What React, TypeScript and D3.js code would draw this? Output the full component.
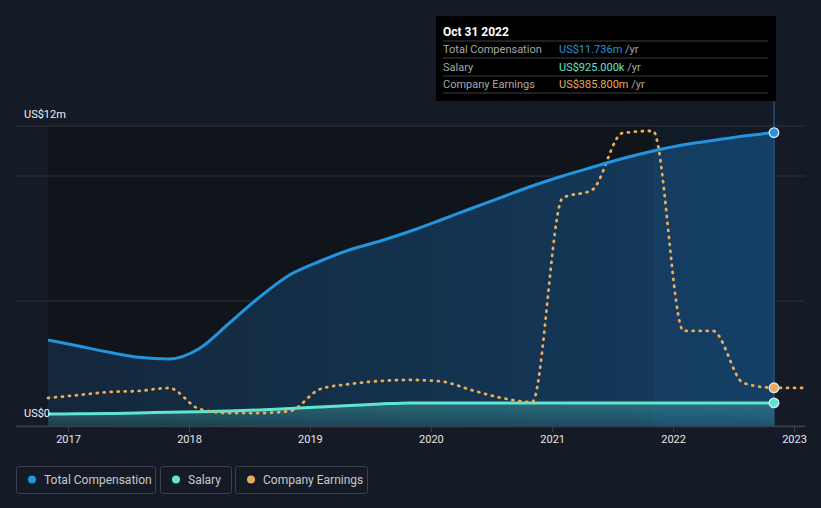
import React from "react";
import { scaleTime, scaleLinear, line, area, curveMonotoneX } from "d3";

const quarterDates = [
  "2016-10-31", "2017-01-31", "2017-04-30", "2017-07-31",
  "2017-10-31", "2018-01-31", "2018-04-30", "2018-07-31",
  "2018-10-31", "2019-01-31", "2019-04-30", "2019-07-31",
  "2019-10-31", "2020-01-31", "2020-04-30", "2020-07-31",
  "2020-10-31", "2021-01-31", "2021-04-30", "2021-07-31",
  "2021-10-31", "2022-01-31", "2022-04-30", "2022-07-31",
  "2022-10-31",
];

// US$ millions
const totalComp = [
  3.44, 3.2, 2.96, 2.75,
  2.68, 3.1, 4.1, 5.15,
  6.05, 6.6, 7.05, 7.4,
  7.8, 8.25, 8.7, 9.15,
  9.6, 10.0, 10.35, 10.7,
  11.0, 11.25, 11.42, 11.6,
  11.736,
];

const salary = [
  0.48, 0.49, 0.5, 0.52,
  0.55, 0.57, 0.6, 0.64,
  0.7, 0.76, 0.82, 0.88,
  0.925, 0.925, 0.925, 0.925,
  0.925, 0.925, 0.925, 0.925,
  0.925, 0.925, 0.925, 0.925,
  0.925,
];

const earningsDates = [...quarterDates, "2023-01-31"];
// US$ millions
const earnings = [
  283, 313, 343, 354,
  384, 172, 131, 131,
  152, 374, 424, 455,
  465, 450, 364, 283,
  242, 2303, 2384, 2959,
  2980, 960, 960, 434,
  385.8, 384,
];

const yTicks = [0, 5, 10, 12];
const years = ["2017", "2018", "2019", "2020", "2021", "2022", "2023"];

const BLUE = "#2394df";
const TEAL = "#5ee6d0";
const ORANGE = "#e8ac5a";

const tooltipRows = [
  { label: "Total Compensation", value: "US$11.736m", color: BLUE },
  { label: "Salary", value: "US$925.000k", color: TEAL },
  { label: "Company Earnings", value: "US$385.800m", color: ORANGE },
];

const legendItems = [
  { label: "Total Compensation", color: BLUE, x: 16, w: 139 },
  { label: "Salary", color: TEAL, x: 160, w: 71 },
  { label: "Company Earnings", color: ORANGE, x: 235, w: 132 },
];

type Pt = { d: Date; v: number };

export default function App() {
  const W = 821;
  const H = 508;
  const x = scaleTime()
    .domain([new Date("2016-10-31"), new Date("2022-10-31")])
    .range([48, 774]);
  const y = scaleLinear().domain([0, 12]).range([426, 126]);
  const yE = scaleLinear().domain([0, 3000]).range([426, 129]);

  const comp: Pt[] = quarterDates.map((d, i) => ({ d: new Date(d), v: totalComp[i] }));
  const sal: Pt[] = quarterDates.map((d, i) => ({ d: new Date(d), v: salary[i] }));
  const earn: Pt[] = earningsDates.map((d, i) => ({ d: new Date(d), v: earnings[i] }));

  const compLine = line<Pt>()
    .x((p) => x(p.d))
    .y((p) => y(p.v))
    .curve(curveMonotoneX);
  const compArea = area<Pt>()
    .x((p) => x(p.d))
    .y0(y(0))
    .y1((p) => y(p.v))
    .curve(curveMonotoneX);
  const earnLine = line<Pt>()
    .x((p) => x(p.d))
    .y((p) => yE(p.v))
    .curve(curveMonotoneX);

  const last = comp[comp.length - 1];
  const lastX = x(last.d);
  const bandX = x(new Date("2021-10-31"));
  const yearTicks = years.map((yr) => new Date(`${yr}-01-01T00:00:00`));

  return (
    <svg
      width={W}
      height={H}
      style={{ position: "absolute", left: 0, top: 0, background: "#151b26", fontFamily: "Roboto, sans-serif" }}
    >
      <defs>
        <linearGradient id="compGrad" x1="0" y1="0" x2="1" y2="0">
          <stop offset="0%" stopColor="#14273b" />
          <stop offset="100%" stopColor="#133c5f" />
        </linearGradient>
        <linearGradient id="salGrad" x1="0" y1="0" x2="0" y2="1">
          <stop offset="0%" stopColor={TEAL} stopOpacity={0.3} />
          <stop offset="100%" stopColor={TEAL} stopOpacity={0.12} />
        </linearGradient>
      </defs>

      {/* plot background */}
      <rect x={48} y={126} width={lastX - 48} height={300} fill="#10141b" />

      {/* grid */}
      {yTicks.map((t) => (
        <line key={t} x1={16} x2={805} y1={y(t)} y2={y(t)} stroke="#2e333d" strokeWidth={1} />
      ))}

      {/* areas */}
      <path d={compArea(comp) ?? ""} fill="url(#compGrad)" />
      <path d={compArea(sal) ?? ""} fill="url(#salGrad)" />
      <rect x={bandX} y={126} width={lastX - bandX} height={300} fill="#2a7bc0" fillOpacity={0.07} />

      {/* hover line */}
      <line x1={lastX} x2={lastX} y1={101} y2={426} stroke="#2a5a85" strokeOpacity={0.6} strokeWidth={2} />

      {/* lines */}
      <path d={compLine(sal) ?? ""} fill="none" stroke={TEAL} strokeWidth={3} />
      <path
        d={earnLine(earn) ?? ""}
        fill="none"
        stroke={ORANGE}
        strokeWidth={2.8}
        strokeDasharray="1 6"
        strokeLinecap="round"
      />
      <path d={compLine(comp) ?? ""} fill="none" stroke={BLUE} strokeWidth={3} />

      {/* end dots */}
      <circle cx={lastX} cy={y(last.v)} r={4.8} fill={BLUE} stroke="#dfe6ee" strokeWidth={1.3} />
      <circle cx={lastX} cy={yE(385.8)} r={4.8} fill={ORANGE} stroke="#dfe6ee" strokeWidth={1.3} />
      <circle cx={lastX} cy={y(0.925)} r={4.8} fill={TEAL} stroke="#dfe6ee" strokeWidth={1.3} />

      {/* x axis */}
      <line x1={16} x2={805} y1={426.5} y2={426.5} stroke="#3a3f4a" strokeWidth={1.5} />
      {yearTicks.map((d, i) => (
        <g key={years[i]} transform={`translate(${x(d)},0)`}>
          <line y1={427} y2={432} stroke="#3a3f4a" />
          <text y={443} textAnchor="middle" fontSize={11} fill="#e6e6e6">
            {years[i]}
          </text>
        </g>
      ))}

      {/* y labels */}
      <text x={24} y={118} fontSize={11} fill="#f0f0f0">US$12m</text>
      <text x={24} y={417} fontSize={11} fill="#f0f0f0">US$0</text>

      {/* tooltip */}
      <rect x={436} y={16} width={340} height={85} fill="#000000" />
      <text x={443} y={35.5} fontSize={12} fontWeight="bold" fill="#ffffff">Oct 31 2022</text>
      {[41, 58, 76, 93].map((ly) => (
        <line key={ly} x1={443} x2={768} y1={ly} y2={ly} stroke="#3c3f44" />
      ))}
      {tooltipRows.map((r, i) => (
        <g key={r.label}>
          <text x={443} y={53 + i * 17.5} fontSize={11} fill="#a8a8a8">{r.label}</text>
          <text x={559} y={53 + i * 17.5} fontSize={11}>
            <tspan fill={r.color}>{r.value}</tspan>
            <tspan fill="#a8a8a8"> /yr</tspan>
          </text>
        </g>
      ))}

      {/* legend */}
      {legendItems.map((item) => (
        <g key={item.label}>
          <rect x={item.x + 0.5} y={466.5} width={item.w} height={27} rx={2} fill="none" stroke="#3b4049" />
          <circle cx={item.x + 16} cy={479.5} r={4} fill={item.color} />
          <text x={item.x + 28} y={483.5} fontSize={12} fill="#c8c8c8">{item.label}</text>
        </g>
      ))}
    </svg>
  );
}
